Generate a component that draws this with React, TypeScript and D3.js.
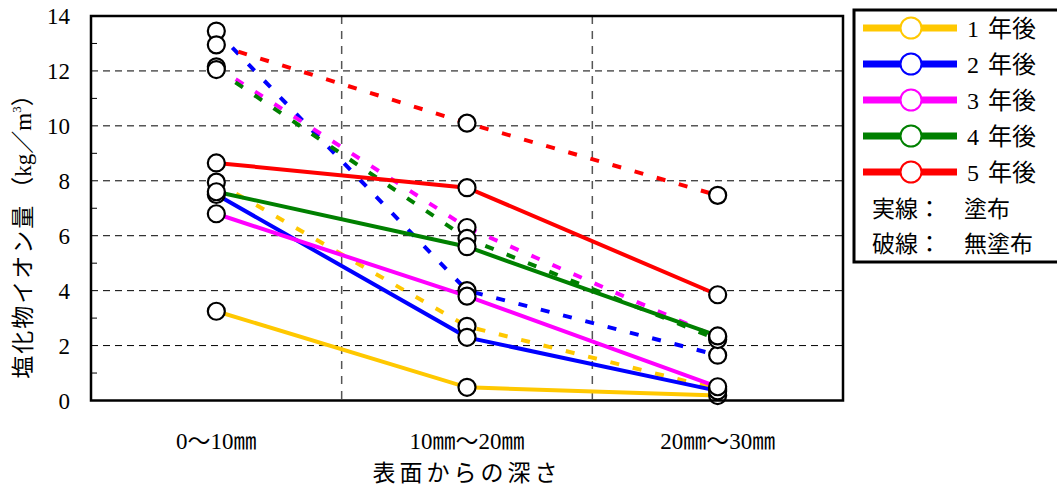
import React from "react";
import * as d3 from "d3";

const categories = ["0～10㎜", "10㎜～20㎜", "20㎜～30㎜"];
const yearLabels = ["1", "2", "3", "4", "5"];
const colors = ["#FFC800", "#0000FF", "#FF00FF", "#008000", "#FF0000"];
// 実線：塗布 (coated)
const coated1 = [3.25, 0.48, 0.18];
const coated2 = [7.5, 2.3, 0.35];
const coated3 = [6.8, 3.8, 0.5];
const coated4 = [7.6, 5.6, 2.35];
const coated5 = [8.65, 7.75, 3.85];
// 破線：無塗布 (uncoated)
const uncoated1 = [7.95, 2.7, 0.42];
const uncoated2 = [13.45, 4.0, 1.65];
const uncoated3 = [12.15, 6.3, 2.3];
const uncoated4 = [12.05, 5.9, 2.22];
const uncoated5 = [12.95, 10.1, 7.47];
const yTicks = [0, 2, 4, 6, 8, 10, 12, 14];
const yMinorTicks = [1, 3, 5, 7, 9, 11, 13];

const coated = [coated1, coated2, coated3, coated4, coated5];
const uncoated = [uncoated1, uncoated2, uncoated3, uncoated4, uncoated5];

const FONT = "'Liberation Serif', 'Noto Sans CJK JP', serif";

export default function App() {
  const W = 1057, H = 489;
  const left = 91, right = 843, top = 16, bottom = 400.5;
  const x = d3.scaleBand<string>().domain(categories).range([left, right]);
  const cx = (i: number) => (x(categories[i]) as number) + x.bandwidth() / 2;
  const y = d3.scaleLinear().domain([0, 14]).range([bottom, top]);
  const line = d3
    .line<number>()
    .x((_, i) => cx(i))
    .y((d) => y(d));

  const allSeries = [
    ...uncoated.map((s, k) => ({ s, k, dashed: true })),
    ...coated.map((s, k) => ({ s, k, dashed: false })),
  ];

  return (
    <svg
      width={W}
      height={H}
      style={{ position: "absolute", left: 0, top: 0, background: "#fff" }}
      fontFamily={FONT}
    >
      <rect x={0} y={0} width={W} height={H} fill="#fff" />
      {/* gridlines */}
      {yTicks
        .filter((t) => t > 0 && t < 14)
        .map((t) => (
          <line
            key={"g" + t}
            x1={left}
            x2={right}
            y1={y(t)}
            y2={y(t)}
            stroke="#000"
            strokeWidth={1}
            strokeDasharray="7,5"
          />
        ))}
      {/* category dividers */}
      {categories.slice(1).map((c) => (
        <line
          key={"d" + c}
          x1={x(c) as number}
          x2={x(c) as number}
          y1={top}
          y2={bottom}
          stroke="#555"
          strokeWidth={1.5}
          strokeDasharray="8,7"
        />
      ))}
      {/* minor ticks */}
      {yMinorTicks.map((t) => (
        <line key={"m" + t} x1={left} x2={left + 6} y1={y(t)} y2={y(t)} stroke="#000" strokeWidth={1} />
      ))}
      {/* lines */}
      {allSeries.map(({ s, k, dashed }) => (
        <path
          key={(dashed ? "u" : "c") + k}
          d={line(s) as string}
          fill="none"
          stroke={colors[k]}
          strokeWidth={4}
          strokeDasharray={dashed ? "9,14" : undefined}
        />
      ))}
      {/* markers */}
      {allSeries.map(({ s, k, dashed }) =>
        s.map((v, i) => (
          <circle
            key={(dashed ? "u" : "c") + k + "-" + i}
            cx={cx(i)}
            cy={y(v)}
            r={8.5}
            fill="#fff"
            stroke="#000"
            strokeWidth={2.2}
          />
        ))
      )}
      {/* frame */}
      <rect x={left} y={top} width={right - left} height={bottom - top} fill="none" stroke="#000" strokeWidth={2.5} />
      {/* y tick labels */}
      {yTicks.map((t) => (
        <text key={"yl" + t} x={70} y={y(t) + 8} textAnchor="end" fontSize={23} fill="#000">
          {t}
        </text>
      ))}
      {/* x tick labels */}
      {categories.map((c, i) => (
        <text key={"xl" + c} x={cx(i)} y={449} textAnchor="middle" fontSize={23} fill="#000">
          {c}
        </text>
      ))}
      {/* axis titles */}
      <text x={467} y={481} textAnchor="middle" fontSize={23} fill="#000" letterSpacing={4}>
        表面からの深さ
      </text>
      <text
        transform={`translate(31,${231}) rotate(-90)`}
        textAnchor="middle"
        fontSize={23}
        fill="#000"
      >
        <tspan letterSpacing={2}>塩化物イオン量</tspan>
        <tspan dx={4}>（kg／m</tspan>
        <tspan dy={-10} fontSize={13}>3</tspan>
        <tspan dy={10}>）</tspan>
      </text>
      {/* legend */}
      <rect x={854} y={10} width={215} height={252} fill="#fff" stroke="#000" strokeWidth={3} />
      {yearLabels.map((yl, k) => {
        const ly = 28 + k * 36;
        return (
          <g key={"lg" + k}>
            <line x1={863} x2={957} y1={ly} y2={ly} stroke={colors[k]} strokeWidth={7} />
            <circle cx={911} cy={ly} r={10.5} fill="#fff" stroke={colors[k]} strokeWidth={2} />
            <text x={967} y={ly + 9} fontSize={24} fill="#000">
              <tspan>{yl}</tspan>
              <tspan dx={9}>年後</tspan>
            </text>
          </g>
        );
      })}
      <text x={872} y={217} fontSize={23} fill="#000">
        実線：　塗布
      </text>
      <text x={872} y={252} fontSize={23} fill="#000">
        破線：　無塗布
      </text>
    </svg>
  );
}
